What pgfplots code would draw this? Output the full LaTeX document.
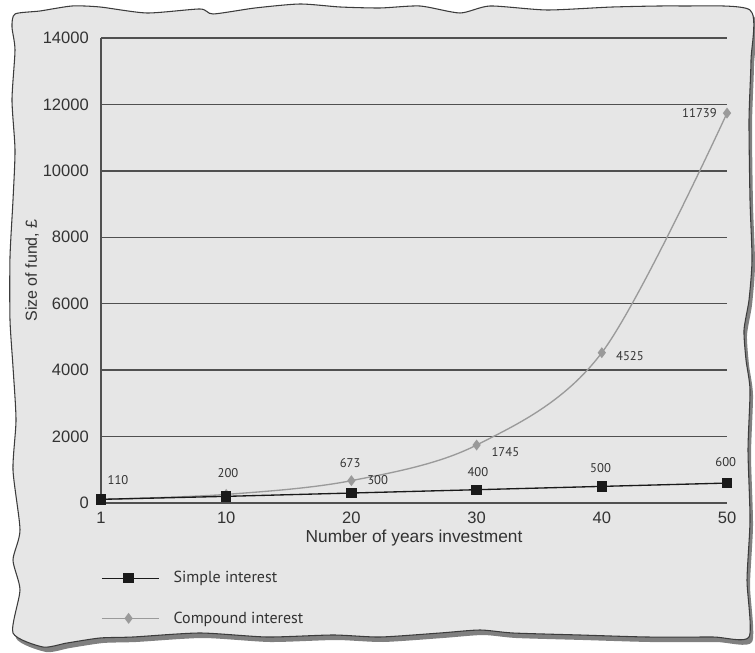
\documentclass[border=0pt]{standalone}
\usepackage{fontspec}
\setmainfont{Liberation Sans}
\newfontfamily\labelfont{PT Sans}
\usepackage{pgfplots}
\pgfplotsset{compat=1.18}

\definecolor{paper}{HTML}{E6E6E6}
\definecolor{shadow}{HTML}{808080}
\definecolor{edge}{HTML}{3C3C3C}
\definecolor{gridc}{HTML}{505050}
\definecolor{compound}{HTML}{9A9A9A}
\definecolor{simple}{HTML}{1A1A1A}
\definecolor{ink}{HTML}{333333}

\begin{document}
\begin{tikzpicture}[
  lbl/.style={font=\labelfont\fontsize{9.5}{11}\selectfont, text=ink, inner sep=0pt}]
\useasboundingbox (0pt,0pt) rectangle (566.25pt,489pt);

% the torn paper sheet behind the chart (1 unit = 0.75pt, y measured downwards)
\begin{scope}[x=0.75pt, y=-0.75pt, shift={(0pt,489pt)}]
\def\sheet{(15,14) (40,11) (72,6) (100,7) (147,13) (200,9) (213,14) (255,8) (300,4)
  (340,7) (380,8) (420,6) (460,13) (490,6) (547,10) (613,7) (680,6) (750,10)
  (751,60) (749,120) (750,200) (752,260) (749,300) (744,330) (746,360) (750,390)
  (748,450) (750,520) (747,580) (749,637)
  (713,637) (647,637) (580,635) (513,633) (480,630) (440,633) (380,637) (333,635)
  (267,637) (200,633) (133,637) (100,638) (67,643) (43,647) (13,633)
  (20,590) (13,560) (20,530) (13,470) (16,420) (13,367) (10,320) (10,257)
  (13,200) (15,150) (12,100) (15,50) (12,27)}
\fill[shadow, shift={(3,5)}] plot[smooth cycle, tension=0.4] coordinates {\sheet};
\filldraw[fill=paper, draw=edge, line width=0.8pt] plot[smooth cycle, tension=0.4] coordinates {\sheet};
\end{scope}

\begin{axis}[
  at={(75.75pt,111.75pt)}, anchor=south west,
  scale only axis, width=469.5pt, height=348.75pt,
  xmin=0, xmax=5, ymin=0, ymax=14000,
  xtick={0,1,2,3,4,5}, xticklabels={1,10,20,30,40,50},
  ytick={0,2000,...,14000},
  axis x line*=bottom, axis y line*=left,
  axis line style={draw=gridc, line width=1pt, -},
  ymajorgrids, grid style={draw=gridc, line width=1pt},
  major tick length=0pt,
  scaled y ticks=false,
  /pgf/number format/assume math mode=true,
  /pgf/number format/1000 sep={},
  tick label style={font=\fontsize{12.4}{14}\selectfont, text=ink},
  yticklabel style={inner sep=0pt, anchor=east, xshift=-9pt},
  xticklabel style={inner sep=0pt, anchor=north, yshift=-6.5pt},
  xlabel={Number of years investment},
  ylabel={Size of fund, £},
  every axis x label/.style={at={(axis description cs:0.5,-0.075)}, anchor=center,
    font=\fontsize{13}{15}\selectfont, text=ink},
  every axis y label/.style={at={(axis description cs:-0.110,0.5)}, rotate=90, anchor=center,
    font=\fontsize{12}{14}\selectfont, text=ink},
  clip=false,
  reverse legend,
  legend cell align=left,
  legend image code/.code={\draw[mark repeat=2,mark phase=2,#1] plot coordinates {(0pt,0pt) (20pt,0pt) (42.75pt,0pt)};},
  legend style={at={(axis description cs:0,-0.205)}, anchor=west, draw=none, fill=none,
    inner sep=0pt, row sep=20pt, font=\labelfont\fontsize{12}{14}\selectfont, text=ink,
    nodes={inner sep=0pt},
    /tikz/every odd column/.append style={column sep=10.5pt}},
]

% 10% a year on 100 pounds, compounded
\addplot[compound, line width=1pt, smooth, tension=0.55,
  mark=diamond*, mark size=3.3pt, mark options={fill=compound, draw=compound}]
  coordinates {(0,110) (1,259) (2,673) (3,1745) (4,4525) (5,11739)};
\addlegendentry{Compound interest}

% 10% a year on 100 pounds, simple
\addplot[simple, line width=1pt,
  mark=square*, mark size=3.4pt, mark options={fill=simple, draw=simple}]
  coordinates {(0,110) (1,200) (2,300) (3,400) (4,500) (5,600)};
\addlegendentry{Simple interest}

% value labels
\node[lbl] at (axis cs:0.136,692) {110};
\node[lbl] at (axis cs:1.014,903) {200};
\node[lbl] at (axis cs:2.21,692) {300};
\node[lbl] at (axis cs:3.01,933) {400};
\node[lbl] at (axis cs:3.99,1054) {500};
\node[lbl] at (axis cs:4.99,1234) {600};
\node[lbl] at (axis cs:1.99,1204) {673};
\node[lbl] at (axis cs:3.23,1535) {1745};
\node[lbl] at (axis cs:4.225,4426) {4525};
\node[lbl] at (axis cs:4.78,11742) {11739};
\end{axis}
\end{tikzpicture}
\end{document}
